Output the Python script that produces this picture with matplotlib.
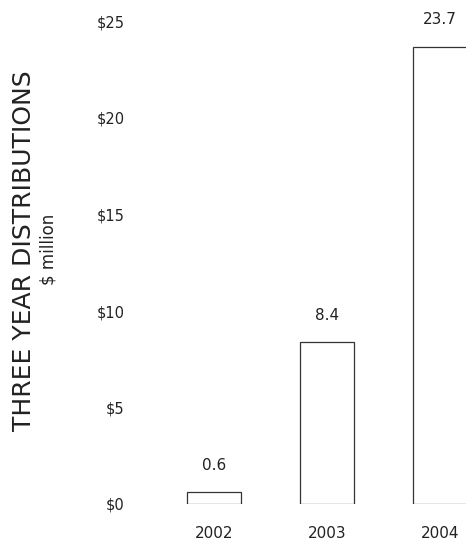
import matplotlib.pyplot as plt

## data
years = ['2002', '2003', '2004']
values = [0.6, 8.4, 23.7]
yticks = [0, 5, 10, 15, 20, 25]
ytick_labels = ['$0', '$5', '$10', '$15', '$20', '$25']

plt.rcParams['font.family'] = ['DejaVu Sans']
ink = '#222222'

fig = plt.figure(figsize=(4.66, 5.42), dpi=100)
# axes box placed so the bars line up with the reference
ax = fig.add_axes([140/466, 38/542, 326/466, (504 - 21.5)/542])

x = range(len(years))
ax.bar(x, values, width=0.48, color='white', edgecolor='#333333', linewidth=0.9)

# value labels above bars
for xi, v in zip(x, values):
    ax.text(xi, v + 1.0, f'{v:.1f}', ha='center', va='bottom',
            fontsize=11, color=ink, clip_on=False)

ax.set_xlim(-0.655, 2.23)
ax.set_ylim(0, 25)
ax.set_xticks(list(x))
ax.set_xticklabels(years)
ax.set_yticks(yticks)
ax.set_yticklabels(ytick_labels)
ax.tick_params(axis='both', length=0, colors=ink)
ax.tick_params(axis='y', labelsize=10.5, pad=11)
ax.tick_params(axis='x', labelsize=11, pad=16)
for s in ax.spines.values():
    s.set_visible(False)

# rotated titles at left
fig.text(24/466, 1 - 251/542, 'THREE YEAR DISTRIBUTIONS', rotation=90,
         ha='center', va='center', fontsize=18, color=ink)
fig.text(48/466, 1 - 249/542, '$ million', rotation=90,
         ha='center', va='center', fontsize=12, color=ink)

plt.savefig('out.png', dpi=100)
